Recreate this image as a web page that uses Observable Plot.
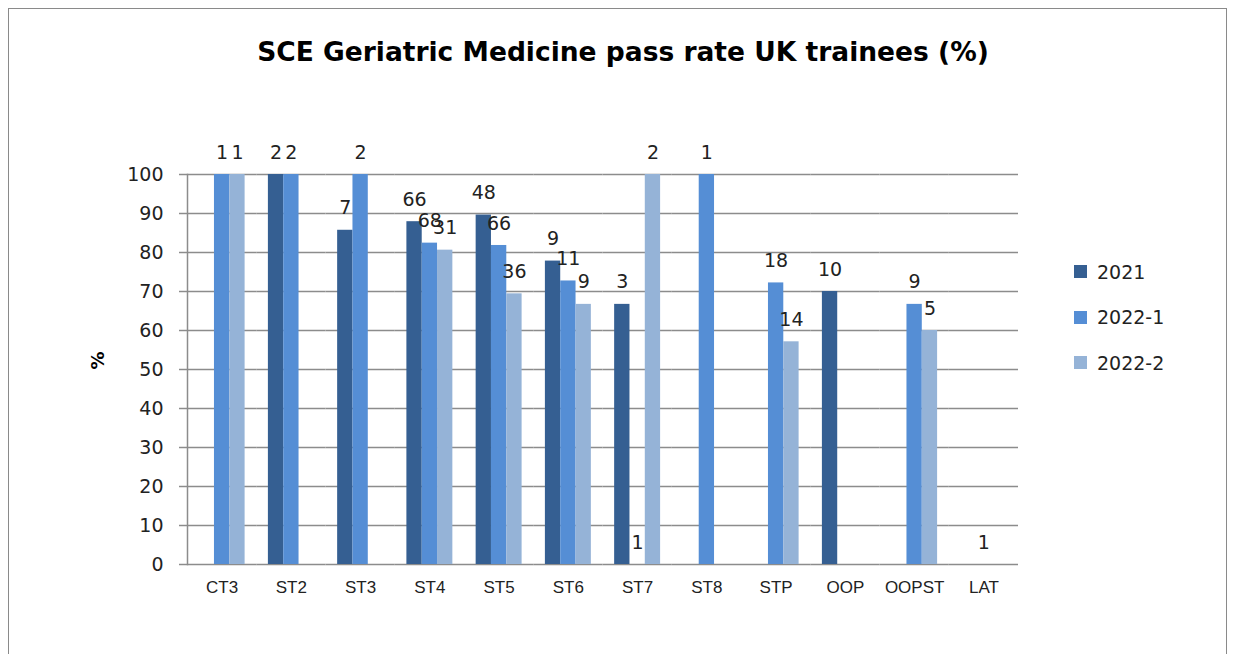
<!DOCTYPE html>
<html>
<head>
<meta charset="utf-8">
<script src="https://cdn.jsdelivr.net/npm/d3@7"></script>
<script src="https://cdn.jsdelivr.net/npm/@observablehq/plot@0.6"></script>
<style>
  html, body { margin: 0; padding: 0; background: #fff; }
  #wrap { position: relative; width: 1236px; height: 654px; overflow: hidden; }
  #border { position: absolute; left: 8px; top: 8px; width: 1219px; height: 700px; border: 1.5px solid #8a8a8a; box-sizing: border-box; }
  #title { position: absolute; left: 0; width: 1246px; top: 36px; line-height: 32px; text-align: center; font-family: "DejaVu Sans", sans-serif; font-weight: bold; font-size: 26.5px; color: #000; }
  #chart { position: absolute; left: 0; top: 0; }
  #legend { position: absolute; left: 1074px; top: 249px; font-family: "DejaVu Sans", sans-serif; font-size: 19px; color: #222; }
  .li { display: flex; align-items: center; height: 45.5px; }
  .sw { width: 13px; height: 13px; margin-right: 10px; }
</style>
</head>
<body>
<div id="wrap">
  <div id="border"></div>
  <div id="title">SCE Geriatric Medicine pass rate UK trainees (%)</div>
  <div id="chart"></div>
  <div id="legend"></div>
</div>
<script>
const categories = ["CT3","ST2","ST3","ST4","ST5","ST6","ST7","ST8","STP","OOP","OOPST","LAT"];
const series = ["2021","2022-1","2022-2"];
const colors = ["#355f92","#558ed5","#95b3d7"];
const pass2021  = [null, 100, 85.7, 87.9, 89.6, 77.8, 66.7, null, null, 70, null, null];
const n2021     = [null, 2, 7, 66, 48, 9, 3, null, null, 10, null, null];
const pass2022a = [100, 100, 100, 82.4, 81.8, 72.7, 0, 100, 72.2, null, 66.7, 0];
const n2022a    = [1, 2, 2, 68, 66, 11, 1, 1, 18, null, 9, 1];
const pass2022b = [100, null, null, 80.6, 69.4, 66.7, 100, null, 57.1, null, 60, null];
const n2022b    = [1, null, null, 31, 36, 9, 2, null, 14, null, 5, null];
const yTicks = [0,10,20,30,40,50,60,70,80,90,100];

const passes = [pass2021, pass2022a, pass2022b];
const counts = [n2021, n2022a, n2022b];
const data = [];
categories.forEach((c, i) => {
  series.forEach((s, j) => {
    if (passes[j][i] != null) data.push({category: c, series: s, value: passes[j][i], n: counts[j][i]});
  });
});

const chart = Plot.plot({
  width: 1236,
  height: 654,
  marginLeft: 187,
  marginRight: 218,
  marginTop: 174,
  marginBottom: 90,
  fx: {domain: categories, padding: 0, round: false, label: null},
  x: {type: "band", domain: series, paddingInner: 0, paddingOuter: 0.76, round: false, axis: null},
  y: {domain: [0, 100], label: null},
  color: {domain: series, range: colors},
  style: {background: "transparent", overflow: "visible"},
  marks: [
    Plot.ruleY(yTicks, {stroke: "#8c8c8c", strokeWidth: 1.5}),
    Plot.frame({anchor: "left", facetAnchor: "left", stroke: "#8c8c8c", strokeWidth: 1.5}),
    Plot.axisY({anchor: "left", ticks: yTicks, tickSize: 8, tickPadding: 16, stroke: "#8c8c8c", strokeWidth: 1.5, fontSize: 19, fontFamily: "DejaVu Sans", fill: "#222", label: null}),
    Plot.axisFx({anchor: "bottom", tickSize: 0, tickPadding: 16, fontSize: 17, fontFamily: "Liberation Sans", fill: "#222", label: null}),
    Plot.barY(data, {fx: "category", x: "series", y: "value", fill: "series", inset: 0}),
    Plot.text(data.filter(d => d.n != null), {fx: "category", x: "series", y: "value", text: "n", dy: -22, fontSize: 19, fontFamily: "DejaVu Sans", fill: "#222"}),
    Plot.text(["%"], {frameAnchor: "left", facetAnchor: "left", dx: -89, rotate: -90, fontSize: 18, fontWeight: "bold", fontFamily: "DejaVu Sans", fill: "#000"})
  ]
});
document.getElementById("chart").appendChild(chart);

const legend = document.getElementById("legend");
series.forEach((s, j) => {
  const row = document.createElement("div");
  row.className = "li";
  const sw = document.createElement("span");
  sw.className = "sw";
  sw.style.background = colors[j];
  const t = document.createElement("span");
  t.textContent = s;
  row.appendChild(sw);
  row.appendChild(t);
  legend.appendChild(row);
});
</script>
</body>
</html>
